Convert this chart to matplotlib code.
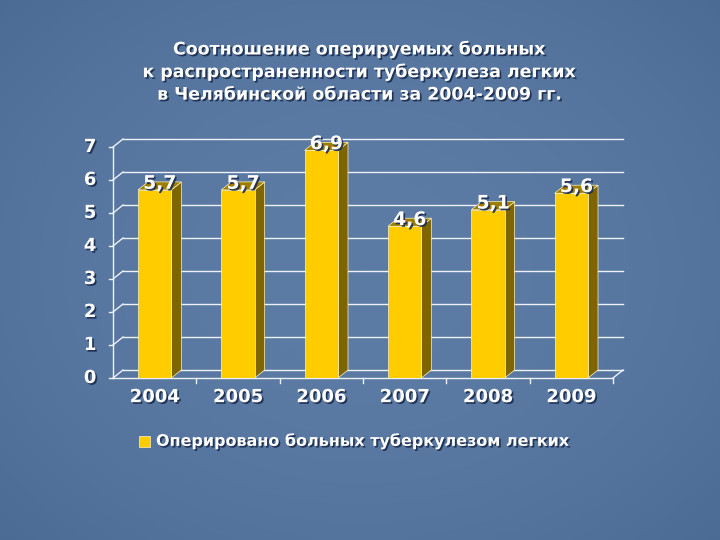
import numpy as np
import matplotlib
matplotlib.use("Agg")
import matplotlib.pyplot as plt
import matplotlib.patheffects as pe
from matplotlib.patches import Polygon

# data
years = ["2004", "2005", "2006", "2007", "2008", "2009"]
operated = [5.7, 5.7, 6.9, 4.6, 5.1, 5.6]
value_labels = ["5,7", "5,7", "6,9", "4,6", "5,1", "5,6"]
yticks = [0, 1, 2, 3, 4, 5, 6, 7]
title = ("Соотношение оперируемых больных\n"
         "к распространенности туберкулеза легких\n"
         "в Челябинской области за 2004-2009 гг.")
legend_label = "Оперировано больных туберкулезом легких"

front_col = "#ffcc00"
side_col = "#7f6500"
top_col = "#9c7d00"
shadow = [pe.withSimplePatchShadow(offset=(1.2, -1.2), shadow_rgbFace="#1b2c4e", alpha=0.9)]

fig = plt.figure(figsize=(7.2, 5.4), dpi=100)

# blue slide background, only slightly darker towards the corners
bg = fig.add_axes([0, 0, 1, 1], zorder=-10)
yy, xx = np.mgrid[0:540, 0:720]
r = np.sqrt(((xx - 360) / 420) ** 2 + ((yy - 270) / 330) ** 2)
k = np.clip(1 - 0.6 * r ** 2, 0, 1)[..., None]
dark = np.array([72, 104, 146]) / 255
light = np.array([92, 124, 165]) / 255
bg.imshow(dark + (light - dark) * k, aspect="auto")
bg.axis("off")

# front plane of the chart: x 113..613 px, y=0 at 378 px, 33 px per unit
ax = fig.add_axes([113 / 720, 1 - 378 / 540, 500 / 720, 7.6 * 33 / 540])
ax.set_xlim(0, len(years))
ax.set_ylim(0, 7.6)
ax.axis("off")

dx, dy = 10 / 500 * len(years), 8 / 33   # depth offset in data units
n = len(years)
lc = "#eef2f8"

# back wall grid + diagonals from the front axis
for v in yticks:
    ax.plot([dx, n + dx], [v + dy, v + dy], color=lc, lw=1.0, clip_on=False)
    ax.plot([0, dx], [v, v + dy], color=lc, lw=1.0, clip_on=False)
    ax.plot([-0.05, 0], [v, v], color=lc, lw=1.0, clip_on=False)
    ax.text(-0.2, v, str(v), ha="right", va="center", color="white",
            fontsize=13, fontweight="bold", path_effects=shadow)

# floor outline and front axis
ax.plot([0, n], [0, 0], color=lc, lw=1.0, clip_on=False)
ax.plot([n, n + dx], [0, dy], color=lc, lw=1.0, clip_on=False)
ax.plot([0, 0], [0, 7], color=lc, lw=1.0, clip_on=False)
for i in range(1, n + 1):
    ax.plot([i, i], [0, -0.15], color=lc, lw=1.0, clip_on=False)

w = 0.4
for i, (h, lab, yr) in enumerate(zip(operated, value_labels, years)):
    x0 = i + 0.5 - w / 2
    x1 = x0 + w
    ax.add_patch(Polygon([(x1, 0), (x1 + dx, dy), (x1 + dx, h + dy), (x1, h)],
                         closed=True, fc=side_col, ec="#fff4c0", lw=0.5, zorder=3))
    ax.add_patch(Polygon([(x0, h), (x0 + dx, h + dy), (x1 + dx, h + dy), (x1, h)],
                         closed=True, fc=top_col, ec="#fff4c0", lw=0.5, zorder=3))
    ax.add_patch(Polygon([(x0, 0), (x1, 0), (x1, h), (x0, h)],
                         closed=True, fc=front_col, ec="#fff4c0", lw=0.5, zorder=4))
    ax.text(i + 0.5 + dx / 2, h + 0.2, lab, ha="center", va="center", color="white",
            fontsize=13.5, fontweight="bold", zorder=5, path_effects=shadow)
    ax.text(i + 0.5, -0.58, yr, ha="center", va="center", color="white",
            fontsize=13, fontweight="bold", path_effects=shadow)

fig.text(0.5, 1 - 72 / 540, title, ha="center", va="center", color="white",
         fontsize=12.5, fontweight="bold", linespacing=1.32, path_effects=shadow)

# legend
fig.patches.append(Polygon([(139 / 720, 1 - 447 / 540), (150 / 720, 1 - 447 / 540),
                            (150 / 720, 1 - 436 / 540), (139 / 720, 1 - 436 / 540)],
                           closed=True, fc=front_col, ec="#fff4c0", lw=0.5,
                           transform=fig.transFigure))
fig.text(156 / 720, 1 - 441 / 540, legend_label, ha="left", va="center", color="white",
         fontsize=11.5, fontweight="bold", path_effects=shadow)

fig.savefig("out.png", dpi=100)
